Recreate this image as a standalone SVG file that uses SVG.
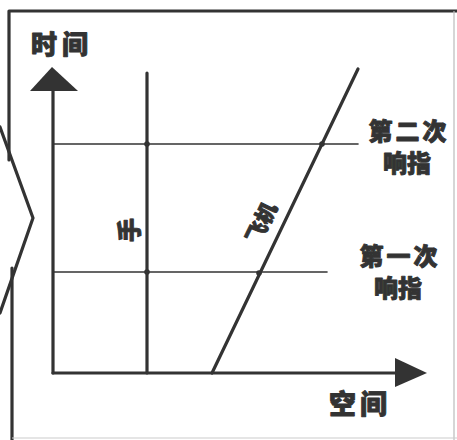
<svg xmlns="http://www.w3.org/2000/svg" width="457" height="440" viewBox="0 0 457 440">
<style>
.ln{stroke:#333;fill:none;stroke-linecap:round;stroke-linejoin:round}
.thick{stroke-width:3.2}
.thin{stroke-width:1.6}
.arr{fill:#333}
.dot{fill:#333}
.lbl{font-family:"Noto Sans CJK SC","Noto Sans",sans-serif;font-weight:900;fill:#333;stroke:#333;stroke-width:0.9;stroke-linejoin:round;text-anchor:middle}
</style>
<rect width="457" height="440" fill="#fff"/>
<g id="frame">
<polyline class="ln thick" points="457,11 9,11 9,160"/>
<polyline class="ln thick" points="0,127 33,218 0,313"/>
<line class="ln thick" x1="12" y1="268" x2="12" y2="440"/>
<line x1="454" y1="11" x2="454" y2="440" stroke="#bbb" stroke-width="1.2"/>
<line x1="12" y1="438" x2="457" y2="438" stroke="#ccc" stroke-width="1.2"/>
</g>
<g id="connectors">
<line class="ln thin" x1="53" y1="144" x2="358" y2="144"/>
<line class="ln thin" x1="53" y1="272" x2="327" y2="272"/>
<line class="ln thick" x1="147" y1="73" x2="147" y2="373"/>
<line class="ln thick" x1="212" y1="373" x2="358" y2="69"/>
<circle class="dot" cx="147" cy="144" r="2.8"/>
<circle class="dot" cx="147" cy="272" r="2.8"/>
<circle class="dot" cx="322" cy="144" r="2.8"/>
<circle class="dot" cx="259" cy="273" r="2.8"/>
</g>
<g id="time-axis">
<line class="ln thick" x1="53" y1="373" x2="53" y2="88"/>
<polygon class="arr" points="52,67 30,91 78,91"/>
<text class="lbl" x="62" y="54" font-size="26" letter-spacing="5">时间</text>
</g>
<g id="space-axis">
<line class="ln thick" x1="53" y1="373" x2="398" y2="373"/>
<polygon class="arr" points="395,358 427,373 395,387"/>
<text class="lbl" x="360" y="414" font-size="27" letter-spacing="4">空间</text>
</g>
<g id="hand">
<text class="lbl" font-size="24" transform="translate(129,230) rotate(-90)" y="9">手</text>
</g>
<g id="plane">
<text class="lbl" font-size="21" transform="translate(262,223) rotate(-64)" y="7">飞机</text>
</g>
<g id="snap2">
<text class="lbl" x="409" y="140" font-size="24" letter-spacing="3">第二次</text>
<text class="lbl" x="407" y="172" font-size="24">响指</text>
</g>
<g id="snap1">
<text class="lbl" x="400" y="265" font-size="24" letter-spacing="3">第一次</text>
<text class="lbl" x="398" y="297" font-size="24">响指</text>
</g>
</svg>
